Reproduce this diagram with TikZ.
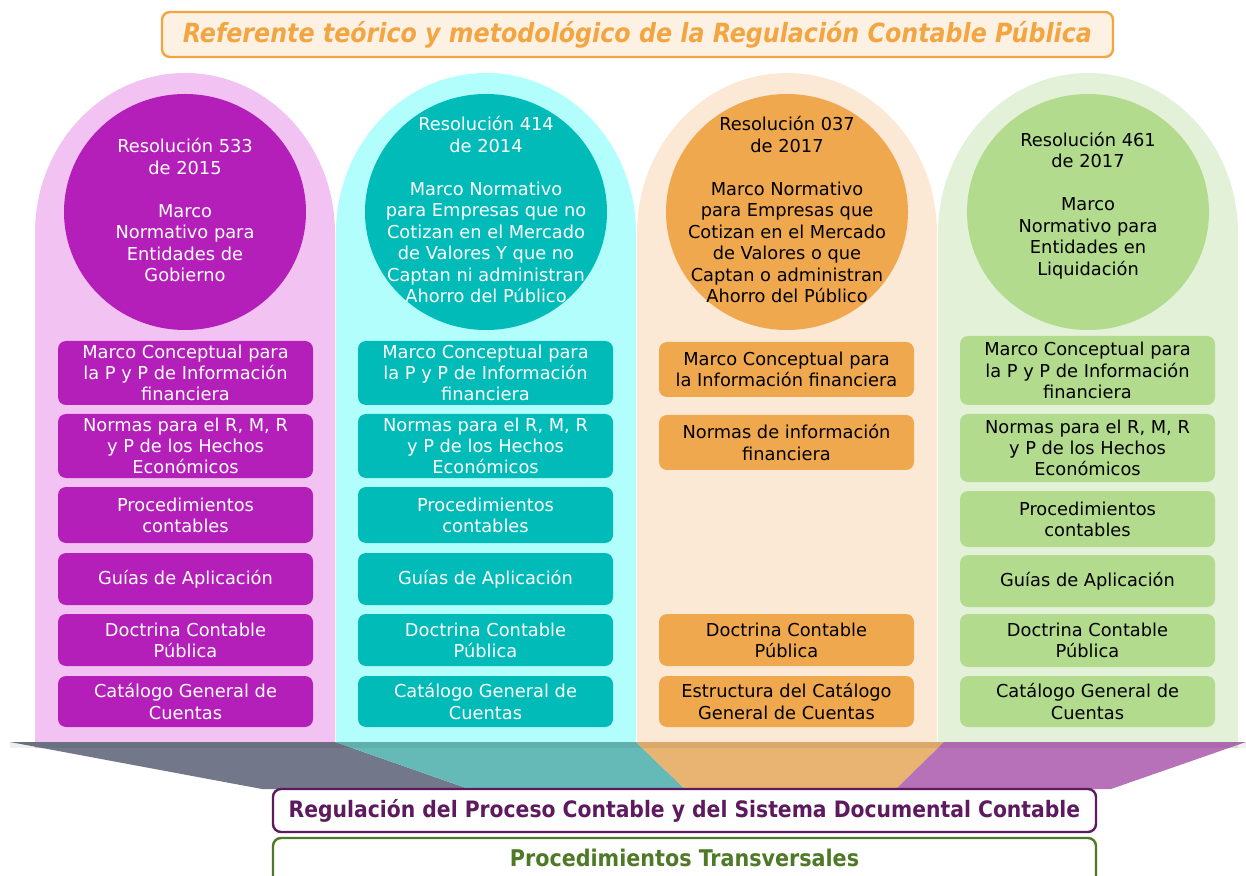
\documentclass[tikz,border=0pt]{standalone}
\usepackage{fontspec}
\setmainfont{DejaVu Sans}
\newfontfamily\condfont{DejaVu Sans Condensed}
\usetikzlibrary{calc}

\definecolor{pinkbg}{HTML}{F2C3F2}
\definecolor{pinkfg}{HTML}{B41FB9}
\definecolor{cyanbg}{HTML}{B2FEFC}
\definecolor{cyanfg}{HTML}{00BBB8}
\definecolor{peachbg}{HTML}{FBE9D5}
\definecolor{peachfg}{HTML}{F0A84F}
\definecolor{greenbg}{HTML}{E4F1D9}
\definecolor{greenfg}{HTML}{B3DB8E}
\definecolor{titleorange}{HTML}{F2A541}
\definecolor{titlefill}{HTML}{FDF1E4}
\definecolor{regpurple}{HTML}{5E1A5E}
\definecolor{transgreen}{HTML}{4E7A27}
\definecolor{funnelgrey}{HTML}{72788A}
\definecolor{funnelteal}{HTML}{65BAB8}
\definecolor{funnelorange}{HTML}{E9B372}
\definecolor{funnelpurple}{HTML}{B771B9}

\def\archback[#1](#2){\fill[#1] ($(#2)+(-150,515)$) -- ++(0,-515) arc[start angle=180,end angle=360,x radius=150,y radius=160] -- ++(0,515) -- cycle;}

\tikzset{
  cbox/.style={rectangle, rounded corners=4pt, minimum width=127.5pt, inner sep=0pt, align=center, font=\fontsize{8.9}{10.6}\selectfont},
  circtext/.style={align=center, inner sep=0pt, font=\fontsize{8.9}{10.75}\selectfont},
  bandbox/.style={rectangle, rounded corners=4pt, minimum width=411.5pt, minimum height=21.5pt, line width=1.2pt, fill=white, font=\condfont\bfseries\fontsize{11.3}{13}\selectfont}
}

\begin{document}
\begin{tikzpicture}[x=0.5pt,y=-0.5pt]
		%%%%% START %%%%%
		\useasboundingbox (0,0) rectangle (1246,876);
		
		\archback[pinkbg](185,233)
		\archback[cyanbg](486,233)
		\archback[peachbg](787,233)
		\archback[greenbg](1088,233)
		
		\fill[pinkfg] (185,212) ellipse [x radius=121, y radius=118];
		\fill[cyanfg] (486,212) ellipse [x radius=121, y radius=118];
		\fill[peachfg] (787,212) ellipse [x radius=121, y radius=118];
		\fill[greenfg] (1088,212) ellipse [x radius=121, y radius=118];
		
		\node[circtext, text=white] (res533) at (185,210.5) {Resolución 533\\de 2015\\[10.75pt]Marco\\Normativo para\\Entidades de\\Gobierno};
		\node[circtext, text=white] (res414) at (486,210) {Resolución 414\\de 2014\\[10.75pt]Marco Normativo\\para Empresas que no\\Cotizan en el Mercado\\de Valores Y que no\\Captan ni administran\\Ahorro del Público};
		\node[circtext, text=black] (res037) at (787,210) {Resolución 037\\de 2017\\[10.75pt]Marco Normativo\\para Empresas que\\Cotizan en el Mercado\\de Valores o que\\Captan o administran\\Ahorro del Público};
		\node[circtext, text=black] (res461) at (1088,205.5) {Resolución 461\\de 2017\\[10.75pt]Marco\\Normativo para\\Entidades en\\Liquidación};
		
		% gobierno
		\node[cbox, fill=pinkfg, text=white, minimum height=32pt] (gobmc) at (185.5,373) {Marco Conceptual para\\la P y P de Información\\financiera};
		\node[cbox, fill=pinkfg, text=white, minimum height=32pt] (gobnor) at (185.5,446) {Normas para el R, M, R\\y P de los Hechos\\Económicos};
		\node[cbox, fill=pinkfg, text=white, minimum height=28pt] (gobproc) at (185.5,515) {Procedimientos\\contables};
		\node[cbox, fill=pinkfg, text=white, minimum height=26pt] (gobguia) at (185.5,579) {Guías de Aplicación};
		\node[cbox, fill=pinkfg, text=white, minimum height=26pt] (gobdoc) at (185.5,640) {Doctrina Contable\\Pública};
		\node[cbox, fill=pinkfg, text=white, minimum height=25.5pt] (gobcat) at (185.5,701.5) {Catálogo General de\\Cuentas};
		
		% empresas que no cotizan
		\node[cbox, fill=cyanfg, text=white, minimum height=32pt] (noemc) at (485.5,373) {Marco Conceptual para\\la P y P de Información\\financiera};
		\node[cbox, fill=cyanfg, text=white, minimum height=32pt] (noenor) at (485.5,446) {Normas para el R, M, R\\y P de los Hechos\\Económicos};
		\node[cbox, fill=cyanfg, text=white, minimum height=28pt] (noeproc) at (485.5,515) {Procedimientos\\contables};
		\node[cbox, fill=cyanfg, text=white, minimum height=26pt] (noeguia) at (485.5,579) {Guías de Aplicación};
		\node[cbox, fill=cyanfg, text=white, minimum height=26pt] (noedoc) at (485.5,640) {Doctrina Contable\\Pública};
		\node[cbox, fill=cyanfg, text=white, minimum height=25.5pt] (noecat) at (485.5,701.5) {Catálogo General de\\Cuentas};
		
		% empresas que cotizan
		\node[cbox, fill=peachfg, text=black, minimum height=27.5pt] (cotmc) at (786.5,369.5) {Marco Conceptual para\\la Información financiera};
		\node[cbox, fill=peachfg, text=black, minimum height=27.5pt] (cotnor) at (786.5,442.5) {Normas de información\\financiera};
		\node[cbox, fill=peachfg, text=black, minimum height=26pt] (cotdoc) at (786.5,640) {Doctrina Contable\\Pública};
		\node[cbox, fill=peachfg, text=black, minimum height=25.5pt] (cotcat) at (786.5,701.5) {Estructura del Catálogo\\General de Cuentas};
		
		% liquidacion
		\node[cbox, fill=greenfg, text=black, minimum height=34.5pt] (liqmc) at (1087.5,370.5) {Marco Conceptual para\\la P y P de Información\\financiera};
		\node[cbox, fill=greenfg, text=black, minimum height=34pt] (liqnor) at (1087.5,448) {Normas para el R, M, R\\y P de los Hechos\\Económicos};
		\node[cbox, fill=greenfg, text=black, minimum height=28pt] (liqproc) at (1087.5,519) {Procedimientos\\contables};
		\node[cbox, fill=greenfg, text=black, minimum height=26pt] (liqguia) at (1087.5,581) {Guías de Aplicación};
		\node[cbox, fill=greenfg, text=black, minimum height=26.5pt] (liqdoc) at (1087.5,640.5) {Doctrina Contable\\Pública};
		\node[cbox, fill=greenfg, text=black, minimum height=25.5pt] (liqcat) at (1087.5,701.5) {Catálogo General de\\Cuentas};
		
		% embudo
		\fill[funnelgrey] (10,742) -- (335,742) -- (469,789) -- (262,789) -- cycle;
		\fill[funnelteal] (335,742) -- (636,742) -- (685,789) -- (469,789) -- cycle;
		\fill[funnelorange] (636,742) -- (944,742) -- (896,789) -- (685,789) -- cycle;
		\fill[funnelpurple] (944,742) -- (1246,742) -- (1111,789) -- (896,789) -- cycle;
		\fill[black, opacity=0.06] (10,742) rectangle (1246,748);
		
		\node[bandbox, draw=regpurple, text=regpurple] (regproc) at (684.5,810.5) {Regulación del Proceso Contable y del Sistema Documental Contable};
		\draw[line width=1.2pt, draw=transgreen, fill=white, rounded corners=4pt] (273,838) rectangle (1096,900);
		\node[font=\condfont\bfseries\fontsize{11.5}{13}\selectfont, text=transgreen] (transv) at (684.5,858) {Procedimientos Transversales};
		
		\node[rectangle, rounded corners=4pt, minimum width=475.5pt, minimum height=22.5pt, fill=titlefill, draw=titleorange, line width=1.2pt, text=titleorange, font=\condfont\bfseries\itshape\fontsize{13.2}{15}\selectfont] (titulo) at (637.5,34.5) {Referente teórico y metodológico de la Regulación Contable Pública};
		
		%%%%% END %%%%%
\end{tikzpicture}
\end{document}
